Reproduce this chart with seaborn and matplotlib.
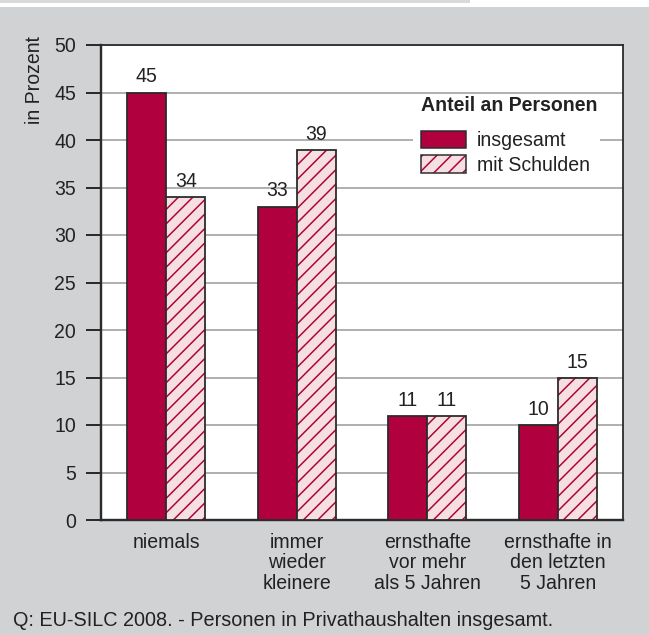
import matplotlib
matplotlib.use("Agg")
import matplotlib.pyplot as plt
from matplotlib.patches import Patch, Rectangle
from matplotlib.legend_handler import HandlerTuple
import seaborn as sns
import pandas as pd

categories = ["niemals", "immer\nwieder\nkleinere", "ernsthafte\nvor mehr\nals 5 Jahren", "ernsthafte in\nden letzten\n5 Jahren"]
insgesamt = [45, 33, 11, 10]
mit_schulden = [34, 39, 11, 15]
series_names = ["insgesamt", "mit Schulden"]
yticks = [0, 5, 10, 15, 20, 25, 30, 35, 40, 45, 50]

CRIMSON = "#b0003e"
PINK = "#f6dfe0"
DARK = "#2b2b2b"
TXT = "#222222"
BG = "#d1d2d4"
GRID = "#a9a9a9"

DPI = 130
W, H = 649, 635


def pt(px):
    return px * 72.0 / DPI


FS = pt(19.5)

sns.set_theme(style="white")
plt.rcParams["font.family"] = ["Liberation Sans", "DejaVu Sans"]
plt.rcParams["hatch.linewidth"] = pt(1.5)

df = pd.DataFrame({
    "cat": categories * 2,
    "series": [series_names[0]] * 4 + [series_names[1]] * 4,
    "value": insgesamt + mit_schulden,
})

fig = plt.figure(figsize=(W / DPI, H / DPI), dpi=DPI, facecolor=BG)
fig.patches.append(Rectangle((0, 1 - 7 / H), 1, 7 / H, transform=fig.transFigure,
                             facecolor="white", edgecolor="none", zorder=0))
fig.patches.append(Rectangle((0, 1 - 3.4 / H), 470 / W, 3.4 / H, transform=fig.transFigure,
                             facecolor="#d9d9d9", edgecolor="none", zorder=1))

ax = fig.add_axes([101 / W, 1 - 520 / H, 522 / W, 475 / H])
ax.set_facecolor("white")

sns.barplot(data=df, x="cat", y="value", hue="series", palette=[CRIMSON, PINK],
            width=0.6, gap=0, saturation=1, legend=False, ax=ax,
            edgecolor=DARK, linewidth=pt(1.8), zorder=3)

for p in ax.containers[1].patches:
    p.set_hatch("///")
    p.set_edgecolor(CRIMSON)
    p.set_linewidth(0)
    outline = Rectangle(p.get_xy(), p.get_width(), p.get_height(), fill=False,
                        edgecolor=DARK, linewidth=pt(1.8), zorder=4)
    ax.add_patch(outline)

for c in ax.containers:
    ax.bar_label(c, fmt="%d", padding=pt(6), fontsize=FS, color=TXT)

ax.set_ylim(0, 50)
ax.set_xlim(-0.5, 3.5)
ax.set_yticks(yticks)
ax.yaxis.grid(True, color=GRID, linewidth=pt(1.8))
ax.set_axisbelow(True)
ax.tick_params(axis="y", which="major", left=True, length=pt(15), width=pt(2), color=DARK,
               labelsize=FS, labelcolor=TXT, pad=pt(10))
ax.tick_params(axis="x", bottom=False, labelsize=FS, labelcolor=TXT, pad=pt(2))
ax.set_xticks(range(4))
ax.set_xticklabels(categories, linespacing=1.1)
ax.set_xlabel("")
ax.set_ylabel("")
for s in ax.spines.values():
    s.set_visible(True)
    s.set_color(DARK)
    s.set_linewidth(pt(1.8))
ax.spines["left"].set_linewidth(pt(2.4))
ax.spines["bottom"].set_linewidth(pt(2.4))

fig.text(34 / W, 1 - 36 / H, "in Prozent", rotation=90, ha="center", va="top",
         fontsize=FS, color=TXT)

# white panel behind the legend (covers the gridline between the entries only)
ax.add_patch(Rectangle((0.598, 0.716), 0.358, 0.177, transform=ax.transAxes,
                       facecolor="white", edgecolor="none", zorder=1))

h1 = Patch(facecolor=CRIMSON, edgecolor=DARK, linewidth=pt(1.5))
h2a = Patch(facecolor=PINK, edgecolor=CRIMSON, hatch="///", linewidth=0)
h2b = Patch(facecolor="none", edgecolor=DARK, linewidth=pt(1.5))
leg = ax.legend([h1, (h2a, h2b)], series_names, handler_map={tuple: HandlerTuple(ndivide=1)},
                loc="upper left", bbox_to_anchor=(0.589, 0.92), frameon=False,
                title="Anteil an Personen", title_fontproperties={"weight": "bold", "size": FS},
                fontsize=FS, handlelength=pt(45) / FS, handleheight=pt(20) / FS,
                handletextpad=pt(11) / FS, labelspacing=pt(5) / FS, borderpad=0.15,
                alignment="left")
leg._legend_box.sep = pt(16)
leg.set_zorder(5)
for t in leg.get_texts():
    t.set_color(TXT)
leg.get_title().set_color(TXT)

fig.text(13 / W, 1 - 620 / H, "Q: EU-SILC 2008. - Personen in Privathaushalten insgesamt.",
         ha="left", va="center", fontsize=FS * 1.02, color=TXT)

fig.savefig("out.png", dpi=DPI, facecolor=BG)
